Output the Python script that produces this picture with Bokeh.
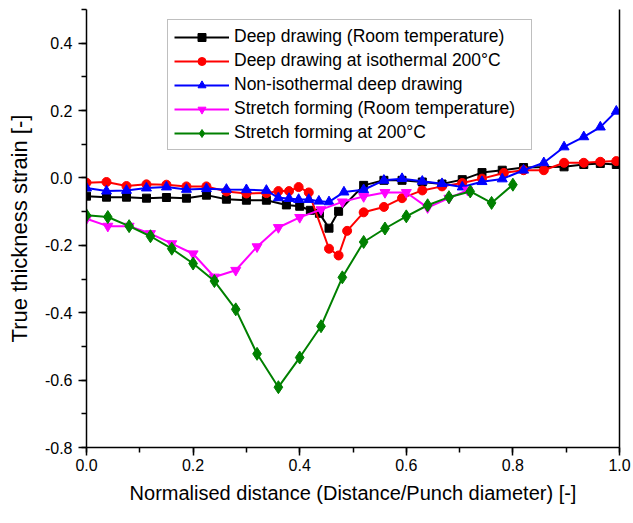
from bokeh.plotting import figure
from bokeh.models import SingleIntervalTicker, PrintfTickFormatter, LinearAxis, Range1d
from bokeh.embed import file_html
from bokeh.resources import INLINE

# ---- data ----
x_dd_rt = [0.0, 0.0375, 0.075, 0.1125, 0.15, 0.1875, 0.225, 0.2625, 0.30, 0.3375, 0.375, 0.40,
           0.42, 0.437, 0.455, 0.473, 0.52, 0.558, 0.592, 0.63, 0.667, 0.705, 0.742, 0.78,
           0.82, 0.896, 0.933, 0.964, 0.994]
y_dd_rt = [-0.054, -0.057, -0.057, -0.060, -0.058, -0.060, -0.051, -0.063, -0.066, -0.066, -0.080,
           -0.084, -0.096, -0.105, -0.149, -0.099, -0.022, -0.007, -0.007, -0.012, -0.018, -0.005,
           0.016, 0.023, 0.031, 0.033, 0.040, 0.043, 0.040]

x_dd_iso = [0.0, 0.0375, 0.075, 0.1125, 0.15, 0.1875, 0.225, 0.2625, 0.30, 0.3375, 0.36, 0.38,
            0.398, 0.417, 0.455, 0.473, 0.489, 0.52, 0.558, 0.592, 0.63, 0.667, 0.705, 0.742,
            0.783, 0.82, 0.858, 0.896, 0.933, 0.964, 0.994]
y_dd_iso = [-0.014, -0.012, -0.024, -0.019, -0.020, -0.025, -0.025, -0.040, -0.046, -0.045, -0.039,
            -0.039, -0.027, -0.043, -0.210, -0.230, -0.157, -0.102, -0.086, -0.060, -0.037, -0.025,
            -0.015, -0.002, 0.015, 0.023, 0.023, 0.045, 0.045, 0.048, 0.050]

x_dd_noniso = [0.0, 0.0375, 0.075, 0.1125, 0.15, 0.1875, 0.225, 0.2625, 0.30, 0.3375, 0.36, 0.38,
               0.398, 0.417, 0.436, 0.455, 0.483, 0.52, 0.558, 0.592, 0.63, 0.667, 0.705, 0.742,
               0.78, 0.82, 0.858, 0.896, 0.933, 0.964, 0.994]
y_dd_noniso = [-0.030, -0.039, -0.037, -0.030, -0.027, -0.034, -0.032, -0.034, -0.035, -0.037, -0.059,
               -0.061, -0.064, -0.064, -0.069, -0.071, -0.042, -0.035, -0.007, -0.002, -0.010, -0.017,
               -0.027, -0.011, -0.003, 0.023, 0.045, 0.092, 0.122, 0.151, 0.198]

x_sf_rt = [0.0, 0.04, 0.08, 0.12, 0.16, 0.20, 0.24, 0.28, 0.32, 0.36, 0.40, 0.44, 0.48, 0.52,
           0.56, 0.60, 0.64, 0.68, 0.715]
y_sf_rt = [-0.121, -0.143, -0.143, -0.165, -0.195, -0.225, -0.294, -0.274, -0.204, -0.147, -0.117,
           -0.094, -0.071, -0.055, -0.043, -0.043, -0.088, -0.060, -0.036]

x_sf_200 = [0.0, 0.04, 0.08, 0.12, 0.16, 0.20, 0.24, 0.28, 0.32, 0.36, 0.40, 0.44, 0.48, 0.52,
            0.56, 0.60, 0.64, 0.68, 0.72, 0.76, 0.80]
y_sf_200 = [-0.111, -0.116, -0.143, -0.173, -0.210, -0.254, -0.306, -0.390, -0.522, -0.621, -0.533,
            -0.440, -0.295, -0.190, -0.150, -0.114, -0.081, -0.057, -0.040, -0.074, -0.020]

labels = ["Deep drawing (Room temperature)",
          "Deep drawing at isothermal 200\u00b0C",
          "Non-isothermal deep drawing",
          "Stretch forming (Room temperature)",
          "Stretch forming at 200\u00b0C"]

FONT = "Liberation Sans"

p = figure(width=633, height=523, output_backend="svg", toolbar_location=None,
           x_range=Range1d(0, 1), y_range=Range1d(-0.8, 0.5),
           min_border_left=86, min_border_right=14, min_border_top=9, min_border_bottom=76)
p.background_fill_color = "white"
p.border_fill_color = "white"
p.outline_line_color = None
p.grid.visible = False

series = [
    (x_dd_rt, y_dd_rt, "black", "square", 8),
    (x_dd_iso, y_dd_iso, "red", "circle", 9),
    (x_dd_noniso, y_dd_noniso, "blue", "triangle", 10),
    (x_sf_rt, y_sf_rt, "magenta", "inverted_triangle", 10),
    (x_sf_200, y_sf_200, "green", "diamond", 13),
]
for (xs, ys, col, mk, sz), lab in zip(series, labels):
    p.line(xs, ys, line_color=col, line_width=2, legend_label=lab)
    p.scatter(xs, ys, marker=mk, size=sz, fill_color=col, line_color=col,
              legend_label=lab)

for ax in (p.xaxis[0], p.yaxis[0]):
    ax.axis_line_color = "black"
    ax.axis_line_width = 1.5
    ax.major_tick_line_color = "black"
    ax.minor_tick_line_color = "black"
    ax.major_tick_line_width = 1.5
    ax.minor_tick_line_width = 1.5
    ax.major_tick_out = 8
    ax.major_tick_in = 0
    ax.minor_tick_out = 5
    ax.minor_tick_in = 0
    ax.major_label_text_font = FONT
    ax.major_label_text_font_size = "16px"
    ax.major_label_text_color = "black"
    ax.axis_label_text_font = FONT
    ax.axis_label_text_font_size = "20px"
    ax.axis_label_text_font_style = "normal"
    ax.axis_label_text_color = "black"
    ax.formatter = PrintfTickFormatter(format="%.1f")

p.xaxis[0].ticker = SingleIntervalTicker(interval=0.2, num_minor_ticks=2)
p.yaxis[0].ticker = SingleIntervalTicker(interval=0.2, num_minor_ticks=2)
p.xaxis[0].axis_label = "Normalised distance (Distance/Punch diameter) [-]"
p.yaxis[0].axis_label = "True thickness strain [-]"
p.yaxis[0].axis_label_text_font_size = "22px"
p.xaxis[0].major_label_standoff = 3
p.yaxis[0].major_label_standoff = 6
p.xaxis[0].axis_label_standoff = 8
p.yaxis[0].axis_label_standoff = 10

right = LinearAxis(ticker=SingleIntervalTicker(interval=0.2, num_minor_ticks=2))
right.axis_line_color = "black"
right.axis_line_width = 1.5
right.major_tick_line_color = None
right.minor_tick_line_color = None
right.major_label_text_font_size = "0px"
right.major_label_text_color = None
p.add_layout(right, "right")

lg = p.legend[0]
lg.location = (81, 297)
lg.label_text_font = FONT
lg.label_text_font_size = "17.5px"
lg.label_text_color = "black"
lg.glyph_width = 55
lg.glyph_height = 20
lg.label_height = 20
lg.label_width = 291
lg.label_standoff = 5
lg.spacing = 3
lg.padding = 6
lg.margin = 0
lg.border_line_color = "#808080"
lg.border_line_width = 1.5
lg.background_fill_color = "white"
lg.background_fill_alpha = 1.0

open("out.html", "w").write(file_html(p, INLINE))
